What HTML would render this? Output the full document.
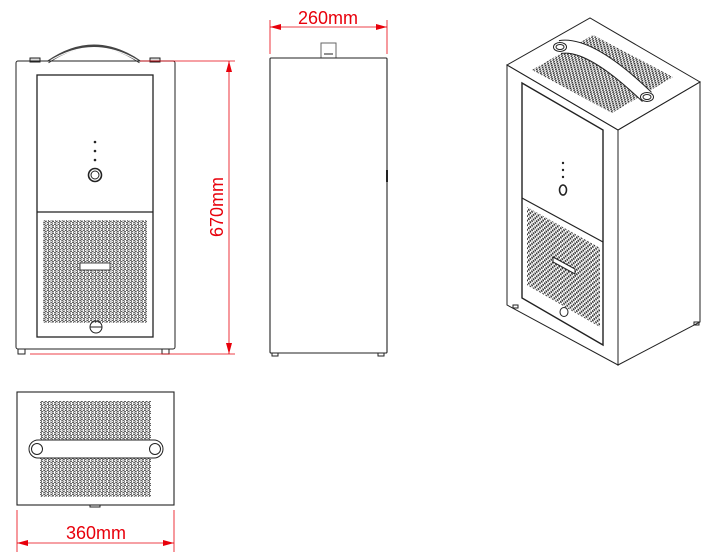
<!DOCTYPE html>
<html><head><meta charset="utf-8"><style>
html,body{margin:0;padding:0;background:#fff;width:712px;height:555px;overflow:hidden}
svg{display:block}
text{font-family:"Liberation Sans",sans-serif;fill:#e8000b}
</style></head><body>
<svg width="712" height="555" viewBox="0 0 712 555">
<defs>
<pattern id="holes" width="3.6" height="6" patternUnits="userSpaceOnUse">
<circle cx="0.9" cy="1.5" r="1.1" fill="none" stroke="#333" stroke-width="0.75"/>
<circle cx="2.7" cy="4.5" r="1.1" fill="none" stroke="#333" stroke-width="0.75"/>
</pattern>
<pattern id="holesI" width="3.2" height="4.6" patternUnits="userSpaceOnUse" patternTransform="skewY(30)">
<circle cx="0.8" cy="1.15" r="1" fill="#333"/>
<circle cx="2.4" cy="3.45" r="1" fill="#333"/>
</pattern>
<pattern id="holesT" width="3.2" height="3.8" patternUnits="userSpaceOnUse" patternTransform="skewX(-30)">
<circle cx="0.8" cy="0.95" r="0.95" fill="#333"/>
<circle cx="2.4" cy="2.85" r="0.95" fill="#333"/>
</pattern>
</defs>
<g fill="none" stroke="#222" stroke-width="1">
<!-- FRONT VIEW -->
<path d="M48 62 Q94 30 140 62" stroke-width="3" stroke="#444"/>
<path d="M48 62 Q94 33 140 62" stroke-width="1" stroke="#fff"/>
<rect x="30" y="58" width="10" height="4" fill="#ddd"/>
<rect x="150" y="58" width="10" height="4" fill="#ddd"/>
<rect x="16" y="61" width="159" height="288" rx="2"/>
<rect x="37" y="75" width="116" height="262" stroke-width="1.3"/>
<line x1="37" y1="212" x2="153" y2="212" stroke-width="1.3"/>
<rect x="43" y="220" width="104" height="103" fill="url(#holes)" stroke="none"/>
<rect x="80" y="263" width="30" height="7" fill="#fff" stroke="#444"/>
<circle cx="95" cy="175" r="6.5" stroke-width="1.6"/>
<circle cx="95" cy="175" r="4" stroke-width="1"/>
<circle cx="95" cy="142" r="0.8" fill="#444"/>
<circle cx="95" cy="151" r="0.8" fill="#444"/>
<circle cx="95" cy="160" r="0.8" fill="#444"/>
<circle cx="96" cy="327" r="6"/>
<line x1="90" y1="327" x2="102" y2="327"/>
<rect x="18" y="349" width="7" height="5"/>
<rect x="162" y="349" width="7" height="5"/>
<!-- SIDE VIEW -->
<rect x="321" y="43" width="15" height="15" stroke="#666"/>
<line x1="324" y1="54" x2="333" y2="54"/>
<rect x="270" y="58" width="117" height="295" rx="1" stroke-width="1.1"/>
<line x1="387" y1="170" x2="387" y2="182" stroke-width="2"/>
<rect x="272" y="353" width="6" height="3"/>
<rect x="378" y="353" width="6" height="3"/>
<!-- TOP VIEW -->
<rect x="17" y="392" width="157" height="113" stroke-width="1.1"/>
<rect x="40" y="401" width="111" height="96" fill="url(#holes)" stroke="none"/>
<rect x="29" y="440" width="134" height="18" rx="9" fill="#fff"/>
<circle cx="37" cy="449" r="5.5"/>
<circle cx="155" cy="449" r="5.5"/>
<rect x="90" y="505" width="10" height="2"/>
<!-- ISO VIEW -->
<polygon points="507,65 590,18 700,82 618,130" fill="#fff"/>
<polygon points="532,70 593,35 673,77 612,113" fill="url(#holesT)" stroke="none"/>
<path d="M560 47 Q590 42 647 97" stroke-width="14" stroke="#222"/>
<path d="M560 47 Q590 42 647 97" stroke-width="12" stroke="#fff"/>
<ellipse cx="560" cy="47" rx="6.5" ry="4.5" fill="#fff"/>
<ellipse cx="560" cy="47" rx="4" ry="2.5"/>
<ellipse cx="647" cy="97" rx="6.5" ry="4.5" fill="#fff"/>
<ellipse cx="647" cy="97" rx="4" ry="2.5"/>
<polygon points="507,65 618,130 618,365 507,305"/>
<polygon points="618,130 700,82 700,322 618,365"/>
<polygon points="522,83 603,130 603,345 522,298" stroke-width="1.4"/>
<line x1="522" y1="198" x2="603" y2="242" stroke-width="1.2"/>
<polygon points="527,207 600,248 600,327 527,285" fill="url(#holesI)" stroke="none"/>
<polygon points="553,257 575,269 575,274 553,262" fill="#fff" stroke="#222"/>
<ellipse cx="563" cy="190" rx="3.5" ry="5" stroke-width="1.6"/>
<circle cx="563" cy="163" r="0.7" fill="#444"/>
<circle cx="563" cy="170" r="0.7" fill="#444"/>
<circle cx="563" cy="177" r="0.7" fill="#444"/>
<ellipse cx="564" cy="312" rx="4" ry="4.5"/>
<rect x="513" y="305" width="5" height="3"/>
<rect x="694" y="322" width="5" height="3"/>
</g>
<!-- DIMENSIONS -->
<g stroke="#e8000b" stroke-width="0.8" fill="none">
<line x1="140" y1="61" x2="235" y2="61"/>
<line x1="30" y1="354" x2="235" y2="354"/>
<line x1="229" y1="61" x2="229" y2="354"/>
<line x1="270" y1="20" x2="270" y2="54"/>
<line x1="387" y1="20" x2="387" y2="54"/>
<line x1="270" y1="27" x2="387" y2="27"/>
<line x1="17" y1="510" x2="17" y2="552"/>
<line x1="174" y1="510" x2="174" y2="552"/>
<line x1="17" y1="543" x2="174" y2="543"/>
</g>
<g fill="#e8000b">
<polygon points="229,61 226,72 232,72"/>
<polygon points="229,354 226,343 232,343"/>
<polygon points="270,27 281,24 281,30"/>
<polygon points="387,27 376,24 376,30"/>
<polygon points="17,543 28,540 28,546"/>
<polygon points="174,543 163,540 163,546"/>
</g>
<text x="328" y="24" font-size="18" text-anchor="middle">260mm</text>
<text x="96" y="539" font-size="18" text-anchor="middle">360mm</text>
<text transform="translate(223,207) rotate(-90)" font-size="18" text-anchor="middle">670mm</text>
</svg>
</body></html>
